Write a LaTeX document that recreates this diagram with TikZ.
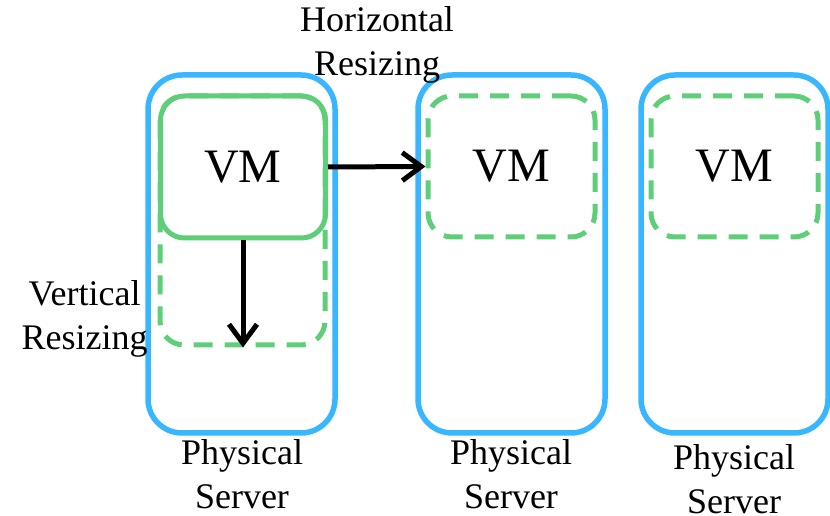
\documentclass[tikz,border=0pt]{standalone}
\usepackage{fontspec}
\setmainfont{Liberation Serif}
\usetikzlibrary{arrows.meta}
\definecolor{srvblue}{HTML}{38B6FF}
\definecolor{vmgreen}{HTML}{5ECF78}
\begin{document}
\begin{tikzpicture}[x=1pt,y=1pt,
  server/.style={draw=srvblue, line width=5.5pt, rounded corners=34pt,
    minimum width=187pt, minimum height=358pt, inner sep=0pt},
  vmbox/.style={draw=vmgreen, line width=5pt, rounded corners=24pt,
    minimum width=165pt, minimum height=142pt, inner sep=0pt,
    font=\fontsize{48}{56}\selectfont},
  vmghost/.style={vmbox, dash pattern=on 19pt off 12pt},
  lbl/.style={align=center, inner sep=0pt, font=\fontsize{36}{44}\selectfont},
  resize/.style={line width=5pt, -{Straight Barb[length=19pt,width=28pt,line width=5pt]}}]
\useasboundingbox (0,0) rectangle (830,516);

% physical servers
\node[server] (srv1) at (241.5,262) {};
\node[server] (srv2) at (511.5,262) {};
\node[server] (srv3) at (734.5,262) {};

% vertically grown VM outline and the running VM
\node[vmghost, minimum height=249pt] (vmext) at (242.5,295.5) {};
\node[vmbox] (vm1) at (243,349) {VM};

% horizontally placed VMs
\node[vmghost, minimum width=167pt, minimum height=141pt] (vm2) at (511.5,349.5) {VM};
\node[vmghost, minimum width=167pt, minimum height=141pt] (vm3) at (734.5,349.5) {VM};

% resizing arrows
\draw[resize] (vm1.east) -- (vm2.west);
\draw[resize] (vm1.south) -- (vm1.south |- vmext.south);

% labels
\node[lbl] (hlbl) at (377,471) {Horizontal\\Resizing};
\node[lbl] (vlbl) at (84.5,197) {Vertical\\Resizing};
\node[lbl] (slbl1) at (242,42) {Physical\\Server};
\node[lbl] (slbl2) at (511,42) {Physical\\Server};
\node[lbl] (slbl3) at (734,37) {Physical\\Server};
\end{tikzpicture}
\end{document}
